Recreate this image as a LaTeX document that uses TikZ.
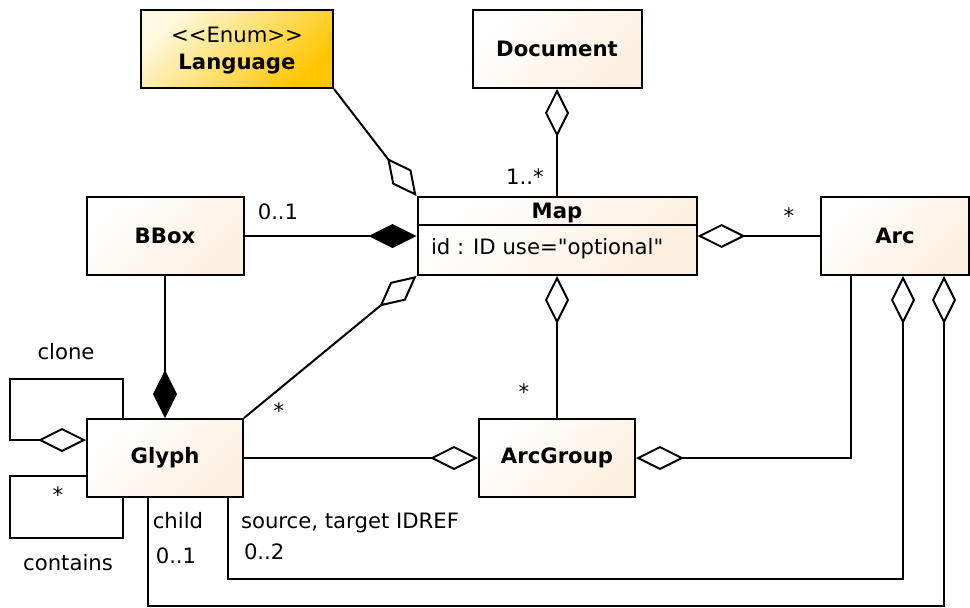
\documentclass[tikz,border=0pt]{standalone}
\usepackage{fontspec}
\setmainfont{DejaVu Sans}[Ligatures=TeXOff]
\usepackage{tikz}
\usetikzlibrary{arrows.meta,positioning}

\definecolor{classfill}{HTML}{FCEFDF}
\definecolor{enumlight}{HTML}{FFF9DF}
\definecolor{enumdark}{HTML}{FFC600}
\newcommand{\umlfont}{\fontsize{21.2}{25}\selectfont}

\tikzset{
  class/.style={draw, line width=2pt, inner sep=0pt, font=\umlfont\bfseries,
    top color=white, bottom color=classfill, shading angle=45},
  enumclass/.style={class, top color=enumlight, bottom color=enumdark, shading angle=45},
  aggr/.style={-{Diamond[open, length=48pt, width=24pt, line width=2pt]}},
  comp/.style={-{Diamond[length=48pt, width=24pt]}},
  lbl/.style={inner sep=0pt, font=\umlfont}
}

\begin{document}
\begin{tikzpicture}[x=1pt, y=-1pt, line width=2pt]
\useasboundingbox (0,0) rectangle (970,608);

% classes
\node (lang) [enumclass, minimum width=192pt, minimum height=78pt] at (237,49) {};
\node (langtext) [lbl, align=center] at (237,51) {<<Enum>>\\[2pt]\textbf{Language}};
\node (doc) [class, minimum width=169pt, minimum height=78pt] at (557,49) {Document};
\node (map) [class, minimum width=279pt, minimum height=78pt] at (557,236) {};
\node (bbox) [class, minimum width=157pt, minimum height=78pt] at (165,236) {BBox};
\node (arc) [class, minimum width=148pt, minimum height=78pt] at (895,236) {Arc};
\node (glyph) [class, minimum width=156pt, minimum height=78pt] at (165,458) {Glyph};
\node (arcgroup) [class, minimum width=156pt, minimum height=78pt] at (557,458) {ArcGroup};

% Map compartments
\draw (map.north west) ++(0,29) coordinate (mapsep) -- (mapsep -| map.east);
\node (maptitle) [lbl, font=\umlfont\bfseries] at (557,213) {Map};
\node (mapattr) [lbl, anchor=west] at (430,249) {id : ID use="optional"};

% associations
\draw[aggr] (lang.south east) -- (map.north west);
\draw[aggr] (map.north) -- (doc.south);
\draw[comp] (bbox.east) -- (map.west);
\draw[aggr] (arc.west) -- (map.east);
\draw[comp] (bbox.south) -- (glyph.north);
\draw[aggr] (glyph.north east) -- (map.south west);
\draw[aggr] (arcgroup.north) -- (map.south);
\draw[aggr] (glyph.east) -- (arcgroup.west);
\draw[aggr] ([xshift=-44pt]arc.south) |- (arcgroup.east);
\draw[aggr] ([xshift=-42pt]glyph.north) -- ++(0,-39) -| (10,440) -- ([yshift=18pt]glyph.west);
\draw ([yshift=-18pt]glyph.west) -- (10,476) |- (123,538) -- ([xshift=-42pt]glyph.south);
\draw[aggr] ([xshift=63pt]glyph.south) -- ++(0,81) -| ([xshift=8pt]arc.south);
\draw[aggr] ([xshift=-17pt]glyph.south) -- ++(0,108) -| ([xshift=49pt]arc.south);

% multiplicities and roles
\node (mdoc) [lbl] at (525,177) {1..*};
\node (mbbox) [lbl] at (278,212) {0..1};
\node (marc) [lbl] at (789,216) {*};
\node (mglyph) [lbl] at (279,411) {*};
\node (marcgroup) [lbl] at (524,392) {*};
\node (clone) [lbl] at (66,352) {clone};
\node (mcontains) [lbl] at (58,495) {*};
\node (contains) [lbl] at (68,563) {contains};
\node (child) [lbl] at (178,521) {child};
\node (mchild) [lbl] at (176,556) {0..1};
\node (srctgt) [lbl, anchor=west] at (240,523) {source, target IDREF};
\node (msrctgt) [lbl, anchor=west] at (243,552) {0..2};
\end{tikzpicture}
\end{document}
